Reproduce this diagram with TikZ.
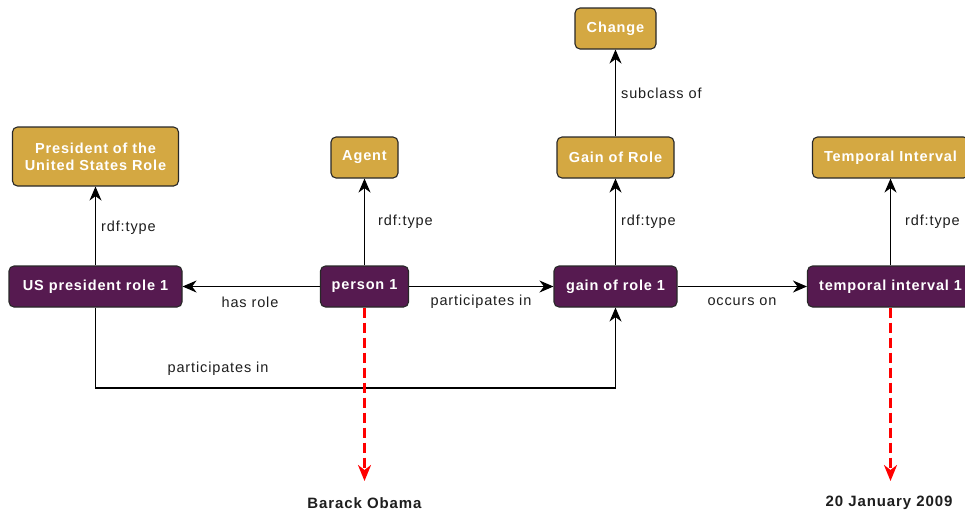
\documentclass[tikz,border=0pt]{standalone}
\usepackage{fontspec}
\setmainfont{Liberation Sans}[LetterSpace=6.0]
\usetikzlibrary{arrows.meta}
\definecolor{gold}{RGB}{212,168,66}
\definecolor{plum}{RGB}{86,26,80}
\definecolor{edgegray}{RGB}{40,40,40}
\definecolor{labeltext}{RGB}{30,30,30}
\tikzset{
  box/.style={draw=edgegray, line width=1.1pt, rounded corners=5pt, minimum height=41pt, inner sep=0pt, font=\fontsize{14.5}{17}\selectfont\bfseries, text=white, align=center},
  cls/.style={box, fill=gold},
  inst/.style={box, fill=plum},
  rel/.style={draw=black, line width=1.2pt, -{Stealth[length=14pt,width=12pt,inset=4.5pt]}},
  lbl/.style={font=\fontsize{14.5}{17}\selectfont, text=labeltext, inner sep=0pt},
  lit/.style={draw=red, line width=2.6pt, dash pattern=on 10pt off 5pt, -{Stealth[length=16pt,width=13pt,inset=5pt]}},
  littext/.style={font=\fontsize{15}{17}\selectfont\bfseries, text=labeltext, inner sep=0pt},
}
\begin{document}
\begin{tikzpicture}[x=1pt,y=-1pt]
\clip (0,0) rectangle (965,515);
\fill[white] (0,0) rectangle (965,515);
% class nodes
\node[cls, minimum width=166pt, minimum height=59pt] (pus) at (95.5,156.5) {President of the\\United States Role};
\node[cls, minimum width=67pt] (agent) at (364.5,157.5) {Agent};
\node[cls, minimum width=81pt] (change) at (615.5,28.5) {Change};
\node[cls, minimum width=117pt] (gain) at (615.5,157.5) {Gain of Role};
\node[cls, minimum width=156pt] (tint) at (890.5,157.5) {Temporal Interval};
% instance nodes
\node[inst, minimum width=173pt] (usr) at (95.5,286.5) {US president role 1};
\node[inst, minimum width=88pt] (p1) at (364.5,286.5) {person 1};
\node[inst, minimum width=123pt] (gr1) at (615.5,286.5) {gain of role 1};
\node[inst, minimum width=166pt] (ti1) at (890.5,286.5) {temporal interval 1};
% type edges
\draw[rel] (usr) -- (pus);
\draw[rel] (p1) -- (agent);
\draw[rel] (gr1) -- (gain);
\draw[rel] (gain) -- (change);
\draw[rel] (ti1) -- (tint);
% relation edges
\draw[rel] (p1) -- (usr);
\draw[rel] (p1) -- (gr1);
\draw[rel] (gr1) -- (ti1);
\draw[rel] (usr.south) -- ++(0,80.5) -| (gr1.south);
% labels
\node[lbl, anchor=west] (t1) at (101,228) {rdf:type};
\node[lbl, anchor=west] (t2) at (378,222) {rdf:type};
\node[lbl, anchor=west] (t3) at (621,222) {rdf:type};
\node[lbl, anchor=west] (t4) at (905,222) {rdf:type};
\node[lbl, anchor=west] (sc) at (621,93) {subclass of};
\node[lbl] (hr) at (250,302) {has role};
\node[lbl] (pi1) at (481,302) {participates in};
\node[lbl] (oc) at (742,302) {occurs on};
\node[lbl] (pi2) at (218,369) {participates in};
% literals
\coordinate (bo) at (364.5,481);
\coordinate (jd) at (890.5,481);
\draw[lit] (p1.south) -- (bo);
\draw[lit] (ti1.south) -- (jd);
\node[littext] (bot) at (364.5,503) {Barack Obama};
\node[littext] (jdt) at (889,503) {20 January 2009};
\end{tikzpicture}
\end{document}
